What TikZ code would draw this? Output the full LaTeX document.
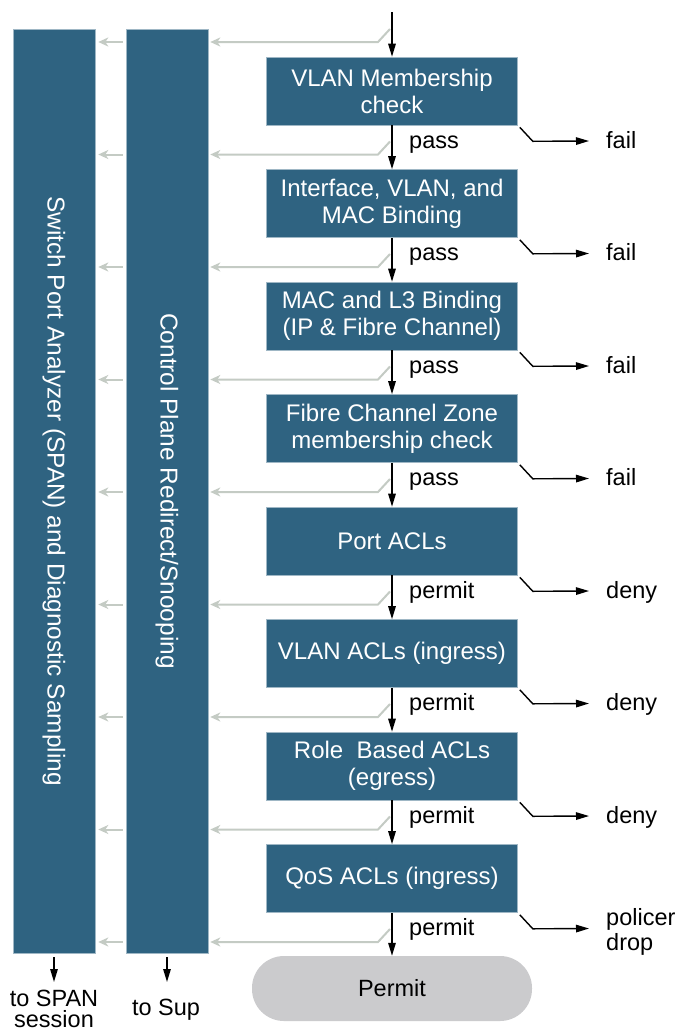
\documentclass[tikz,border=0pt]{standalone}
\usepackage{fontspec}
\setmainfont{Liberation Sans}
\usetikzlibrary{arrows.meta}

\definecolor{stage}{HTML}{2F6381}
\definecolor{stageedge}{HTML}{9FB7C5}
\definecolor{tap}{HTML}{C4CBC4}
\definecolor{pill}{HTML}{CBCBCD}

\begin{document}
\begin{tikzpicture}[x=1pt,y=-1pt,
  every node/.style={font=\fontsize{23.5pt}{27pt}\selectfont},
  stagebox/.style={draw=stageedge, line width=0.6pt, fill=stage, text=white,
    minimum width=251pt, minimum height=68pt, align=center, inner sep=0pt,
    font=\fontsize{24pt}{27pt}\selectfont},
  column/.style={draw=stageedge, line width=0.6pt, fill=stage,
    minimum width=82pt, minimum height=924pt, inner sep=0pt},
  coltext/.style={rotate=-90, text=white, inner sep=0pt,
    font=\fontsize{24.4pt}{27pt}\selectfont},
  flow/.style={line width=1.4pt, -{Triangle[length=13pt,width=7.5pt]}},
  tapline/.style={draw=tap, line width=2pt, -{Stealth[length=10pt,width=9pt,inset=3pt]}},
  lbl/.style={anchor=base west, inner sep=0pt}]

\useasboundingbox[fill=white] (0,0) rectangle (683,1034);

% side columns: mirror and supervisor paths
\node[column] (span) at (54,491) {};
\node[coltext] (spantext) at (span.center) {Switch Port Analyzer (SPAN) and Diagnostic Sampling};
\node[column] (snoop) at (167,491) {};
\node[coltext] (snooptext) at (snoop.center) {Control Plane Redirect/Snooping};

% ingress check pipeline
\node[stagebox] (s0) at (392,91)    {VLAN Membership\\check};
\node[stagebox] (s1) at (392,203.5) {Interface, VLAN, and\\MAC Binding};
\node[stagebox] (s2) at (392,316)   {MAC and L3 Binding\\(IP \& Fibre Channel)};
\node[stagebox] (s3) at (392,428.5) {Fibre Channel Zone\\membership check};
\node[stagebox] (s4) at (392,541)   {Port ACLs};
\node[stagebox] (s5) at (392,653.5) {VLAN ACLs (ingress)};
\node[stagebox] (s6) at (392,766)   {Role\ \ Based ACLs\\(egress)};
\node[stagebox] (s7) at (392,878.5) {QoS ACLs (ingress)};

\node[fill=pill, rounded corners=32pt, minimum width=280pt, minimum height=65pt,
  inner sep=0pt] (permit) at (392,988.5) {Permit};

% taps towards the side columns
\foreach \k in {0,...,8} {
  \coordinate (tb\k) at (390,{29+112.5*\k});
  \coordinate (tk\k) at (378,{42+112.5*\k});
  \draw[tapline, shorten >=2pt] (tb\k) -- (tk\k) -- (tk\k -| snoop.east);
  \draw[tapline, shorten <=3pt, shorten >=3pt] (tk\k -| snoop.west) -- (tk\k -| span.east);
}

% main flow
\coordinate (in) at (392,12);
\draw[flow] (in) -- (s0);
\foreach \a/\b in {s0/s1,s1/s2,s2/s3,s3/s4,s4/s5,s5/s6,s6/s7,s7/permit}
  \draw[flow] (\a) -- (\b);

% pass / permit labels
\foreach \i/\w in {0/pass,1/pass,2/pass,3/pass,4/permit,5/permit,6/permit,7/permit}
  \node[lbl] (p\i) at (409,{148+112.5*\i}) {\w};

% fail / deny exits
\foreach \i/\w in {0/fail,1/fail,2/fail,3/fail,4/deny,5/deny,6/deny}
  \node[lbl] (f\i) at (606,{148+112.5*\i}) {\w};
\node[anchor=north west, align=left, inner sep=0pt,
  font=\fontsize{23.5pt}{25pt}\selectfont] (f7) at (606,908) {policer\\drop};
\foreach \i in {0,...,7} {
  \coordinate (ft\i) at (589,{141+112.5*\i});
  \draw[flow] ([shift={(2,2)}]s\i.south east) -- ++(13,14) -- (ft\i);
}

% column outputs
\coordinate (spanout) at (54,982);
\coordinate (snoopout) at (167,982);
\draw[flow, shorten <=4pt] (span.south) -- (spanout);
\draw[flow, shorten <=4pt] (snoop.south) -- (snoopout);
\node[anchor=north, align=center, inner sep=0pt,
  font=\fontsize{23.5pt}{21.5pt}\selectfont] (spanlbl) at (54,989.5) {to SPAN\\session};
\node[anchor=base, inner sep=0pt] (suplbl) at (166,1015) {to Sup};

\end{tikzpicture}
\end{document}
